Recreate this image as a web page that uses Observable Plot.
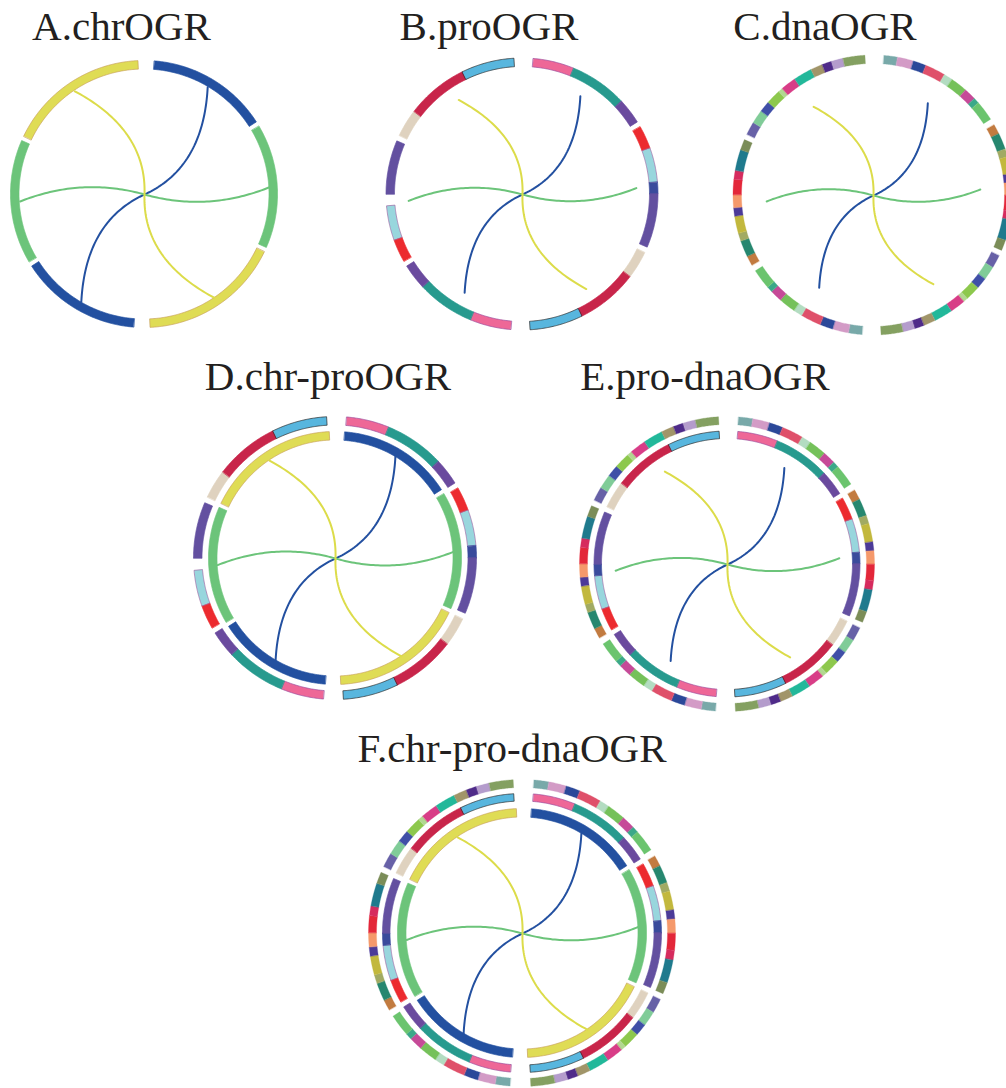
<!DOCTYPE html>
<html><head><meta charset="utf-8">
<script src="https://cdn.jsdelivr.net/npm/d3@7"></script>
<script src="https://cdn.jsdelivr.net/npm/@observablehq/plot@0.6"></script>
<style>
html,body{margin:0;padding:0;background:#fff;}
#root{position:relative;width:1006px;height:1088px;overflow:hidden;background:#fff;}
.title{position:absolute;font-family:"Liberation Serif","Times New Roman",serif;font-size:41px;line-height:40px;color:#231f20;white-space:nowrap;transform:translateX(-50%);z-index:2;}
.panel{position:absolute;z-index:1;}
</style></head><body><div id="root"></div>
<script>
// ---- chromosome ring (angles in degrees, clockwise from 12 o'clock; the layout repeats after 180°)
const chrStart  = [4.5, 59.5, 115.7];
const chrEnd    = [57.3, 113.6, 177.4];
const chrFill   = ["#2350a0", "#6cc47a", "#dfdc55"];
const chrStroke = ["#2350a0", "#6cc47a", "#c9a05a"];

// ---- protein ring
const proStart  = [4.8, 22.4, 47.0, 60.4, 70.3, 85.0, 90.0, 115.6, 127.5, 154.0];
const proEnd    = [22.4, 47.0, 58.0, 70.3, 85.0, 90.0, 113.0, 127.5, 154.0, 176.6];
const proFill   = ["#ee6797", "#279a8e", "#6a4a9e", "#ec2b2f", "#98d6dd", "#3a4b9c", "#6350a0", "#dfd2bf", "#c8254a", "#58b6de"];
const proStroke = ["#9a4c9c", "#279a8e", "#6a4a9e", "#ec2b2f", "#a26aa6", "#3a4b9c", "#6350a0", "#dfd2bf", "#c8254a", "#2a2a2a"];

// ---- dna ring
const dnaStart = [4.5, 10.1, 16.8, 22.2, 30.7, 34.4, 41.4, 46.4, 48.8,
                  59.9, 64.0, 70.8, 74.1, 81.3, 84.8, 90.1, 96.5, 100.2, 108.9,
                  115.7, 121.2, 126.9, 131.5, 137.7, 139.6, 146.0, 153.7, 158.7, 162.7, 167.6];
const dnaEnd   = [10.1, 16.8, 22.2, 30.7, 34.4, 41.4, 46.4, 48.8, 57.2,
                  64.0, 70.8, 74.1, 81.3, 84.8, 90.1, 96.5, 100.2, 108.9, 113.3,
                  121.2, 126.9, 131.5, 137.7, 139.6, 146.0, 153.7, 158.7, 162.7, 167.6, 176.7];
const dnaFill  = ["#78a9a9", "#d39bc6", "#2b4899", "#df506a", "#b3dcc1", "#75c15a", "#c64a98", "#3ba889", "#6bc46e",
                  "#c27b40", "#26876f", "#a1aa63", "#c2b83d", "#4b3a98", "#f5996b", "#e32739", "#d62b5e", "#1f7a8d", "#7b8d58",
                  "#6761a7", "#80cc98", "#3f4fa7", "#8dc84d", "#b2d891", "#d83d87", "#22b89a", "#a19569", "#4f2b89", "#b49ccc", "#84a061"];

// ---- links (one per chromosome, joining its two copies through the centre)
const linkAngleA = [30.5, 86.8, 146.0];
const linkAngleB = [210.5, 266.8, 326.0];
const linkTwist  = [35, 19, 36];       // angular offset of the bend, degrees
const linkColor  = ["#2350a0", "#6cc47a", "#dcdc4a"];

// ---- panels
const titles  = ["A.chrOGR", "B.proOGR", "C.dnaOGR", "D.chr-proOGR", "E.pro-dnaOGR", "F.chr-pro-dnaOGR"];
const titleX  = [121.5, 489, 825, 328, 705, 512];
const titleBase = [39, 39, 39, 389, 389, 761];
const centerX = [143.5, 522, 873, 334.5, 726.5, 521.5];
const centerY = [194, 194, 195, 558, 564, 933];
const panelRings = [
  [["chr", 125, 133.5]],
  [["pro", 127.5, 136]],
  [["dna", 131.5, 140]],
  [["pro", 133, 141.5], ["chr", 118, 126.5]],
  [["dna", 139.5, 147.5], ["pro", 125.5, 133]],
  [["dna", 145.5, 153.5], ["pro", 132, 139.5], ["chr", 116, 124.5]]
];
const linkRadius = [124.5, 114, 107, 118, 112, 116];
// the dark-blue protein block on the left half is absent in B and D
const missingPro = [[], [15], [], [15], [], []];

const rad = d => d * Math.PI / 180;
const polar = (a, r) => [r * Math.sin(rad(a)), r * Math.cos(rad(a))];

function ringRows(kind, r0, r1, panelIdx) {
  const src = kind === "chr" ? [chrStart, chrEnd, chrFill, chrStroke]
            : kind === "pro" ? [proStart, proEnd, proFill, proStroke]
            : [dnaStart, dnaEnd, dnaFill, dnaFill];
  const [st, en, fi, sk] = src;
  const n = st.length;
  const rows = [];
  for (let half = 0; half < 2; half++) {
    for (let i = 0; i < n; i++) {
      const idx = half * n + i;
      if (kind === "pro" && missingPro[panelIdx].includes(idx)) continue;
      const a0 = st[i] + half * 180, a1 = en[i] + half * 180;
      const steps = Math.max(2, Math.ceil((a1 - a0) / 0.5));
      for (let k = 0; k <= steps; k++) {
        const a = a0 + (a1 - a0) * k / steps;
        const [xi, yi] = polar(a, r0), [xo, yo] = polar(a, r1);
        rows.push({id: kind + idx, xi, yi, xo, yo, fill: fi[i], stroke: sk[i]});
      }
    }
  }
  return rows;
}

function linkRows(rl) {
  const rows = [];
  linkAngleA.forEach((a, i) => {
    const b = linkAngleB[i];
    // two quadratic Béziers: end A -> centre, centre -> end B
    const legs = [[polar(a, rl), polar(a + linkTwist[i], 0.52 * rl), [0, 0]],
                  [[0, 0], polar(b + linkTwist[i], 0.52 * rl), polar(b, rl)]];
    legs.forEach(([P0, Q, P1], leg) => {
      for (let k = leg ? 1 : 0; k <= 50; k++) {
        const t = k / 50, u = 1 - t;
        rows.push({id: i, color: linkColor[i],
          x: u * u * P0[0] + 2 * u * t * Q[0] + t * t * P1[0],
          y: u * u * P0[1] + 2 * u * t * Q[1] + t * t * P1[1]});
      }
    });
  });
  return rows;
}

const root = document.getElementById("root");
const S = 320, H = S / 2;
titles.forEach((t, p) => {
  const marks = [];
  for (const [kind, r0, r1] of panelRings[p]) {
    marks.push(Plot.area(ringRows(kind, r0, r1, p), {
      x1: "xi", y1: "yi", x2: "xo", y2: "yo", z: "id",
      fill: "fill", stroke: "stroke", strokeWidth: kind === "dna" ? 0.3 : 0.7, curve: "linear"
    }));
  }
  marks.push(Plot.line(linkRows(linkRadius[p]), {x: "x", y: "y", z: "id", stroke: "color", strokeWidth: 2, curve: "linear"}));
  const svg = Plot.plot({
    width: S, height: S, margin: 0,
    x: {domain: [-H, H], axis: null},
    y: {domain: [-H, H], axis: null},
    color: {type: "identity"},
    style: {background: "transparent", overflow: "visible"},
    marks
  });
  svg.classList.add("panel");
  svg.style.left = (centerX[p] - H) + "px";
  svg.style.top = (centerY[p] - H) + "px";
  svg.style.position = "absolute";
  root.appendChild(svg);

  const div = document.createElement("div");
  div.className = "title";
  div.textContent = t;
  div.style.left = titleX[p] + "px";
  div.style.top = (titleBase[p] - 33.5) + "px";
  root.appendChild(div);
});
</script>
</body></html>
